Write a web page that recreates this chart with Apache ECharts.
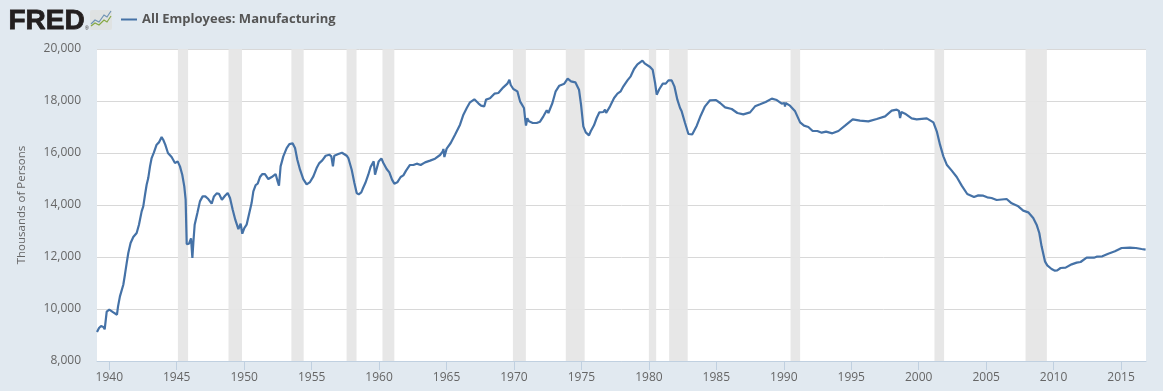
<!DOCTYPE html>
<html>
<head>
<meta charset="utf-8">
<style>html,body{margin:0;padding:0;background:#e1e9f0}#c{width:1163px;height:391px}</style>
<script src="https://cdn.jsdelivr.net/npm/echarts@6/dist/echarts.min.js"></script>
</head>
<body>
<div id="c"></div>
<script>
const seriesName = "All Employees: Manufacturing";
const yAxisName = "Thousands of Persons";
const yearTicks = [1940,1945,1950,1955,1960,1965,1970,1975,1980,1985,1990,1995,2000,2005,2010,2015];
const recessionStarts = [1945.09,1948.84,1953.5,1957.59,1960.25,1969.92,1973.84,1980.0,1981.5,1990.5,2001.17,2007.92];
const recessionEnds   = [1945.84,1949.84,1954.41,1958.33,1961.13,1970.88,1975.24,1980.54,1982.88,1991.21,2001.88,2009.5];
const years = [
1939.09,1939.24,1939.39,1939.56,1939.66,1939.81,1940.0,1940.3,1940.57,1940.65,1940.79,1941.04,1941.16,1941.29,1941.41,1941.58,1941.78,1942.03,1942.2,1942.4,1942.52,1942.65,1942.77,1942.89,
1943.02,1943.14,1943.31,1943.51,1943.68,1943.88,1944.0,1944.15,1944.35,1944.62,1944.87,1945.07,1945.24,1945.41,1945.56,1945.66,1945.74,1945.91,1946.06,1946.12,1946.16,1946.23,1946.33,1946.53,1946.72,1946.92,
1947.12,1947.34,1947.59,1947.76,1947.96,1948.13,1948.35,1948.58,1948.78,1948.95,1949.15,1949.34,1949.57,1949.74,1949.86,1950.01,1950.18,1950.38,1950.55,1950.68,1950.85,1951.0,1951.17,1951.35,1951.54,1951.79,
1952.04,1952.33,1952.48,1952.58,1952.7,1952.9,1953.15,1953.35,1953.59,1953.77,1953.94,1954.14,1954.38,1954.63,1954.88,1955.13,1955.37,1955.57,1955.79,1956.04,1956.31,1956.46,1956.58,1956.68,1956.98,
1957.25,1957.6,1957.72,1957.97,1958.17,1958.34,1958.49,1958.68,1958.78,1958.88,1958.98,1959.2,1959.37,1959.6,1959.7,1959.82,1959.97,1960.17,1960.32,1960.56,1960.76,1960.96,
1961.13,1961.35,1961.6,1961.8,1962.0,1962.29,1962.54,1962.79,1963.08,1963.41,1963.78,1964.15,1964.52,1964.72,1964.77,1964.84,1965.01,1965.31,1965.63,1966.0,1966.25,1966.5,1966.74,1967.06,1967.36,1967.56,1967.68,1967.8,1967.93,
1968.22,1968.55,1968.84,1969.21,1969.51,1969.66,1969.76,1969.95,1970.25,1970.45,1970.74,1970.82,1970.89,1970.99,1971.11,1971.21,1971.39,1971.68,1971.93,1972.18,1972.43,1972.55,1972.85,
1973.09,1973.36,1973.73,1973.98,1974.23,1974.55,1974.82,1974.97,1975.14,1975.32,1975.56,1975.69,1975.93,1976.13,1976.33,1976.63,1976.75,1976.83,1977.12,1977.42,1977.67,1977.91,
1978.11,1978.41,1978.65,1978.9,1979.15,1979.52,1979.71,1980.09,1980.28,1980.46,1980.58,1980.78,1981.03,1981.25,1981.45,1981.69,1981.89,1982.11,1982.31,1982.43,1982.68,1982.93,
1983.22,1983.55,1983.84,1984.16,1984.53,1984.98,1985.28,1985.65,1986.14,1986.56,1987.0,1987.5,1987.87,1988.24,1988.66,1989.11,1989.48,1989.85,1990.05,1990.09,1990.13,1990.46,1990.84,
1991.21,1991.5,1991.82,1992.14,1992.49,1992.81,1993.13,1993.6,1994.05,1994.54,1995.11,1995.65,1996.27,1996.89,1997.51,1998.0,1998.37,1998.54,1998.62,1998.72,1998.99,1999.48,1999.85,
2000.6,2000.72,2001.09,2001.34,2001.58,2001.83,2002.08,2002.45,2002.82,2003.19,2003.6,2004.1,2004.42,2004.79,2005.08,2005.4,2005.78,2006.52,2006.89,2007.38,2007.75,2008.12,2008.49,2008.74,2008.94,
2009.11,2009.36,2009.53,2009.85,2010.1,2010.27,2010.52,2010.89,2011.34,2011.71,2012.0,2012.45,2012.99,2013.19,2013.61,2014.05,2014.55,2015.04,2015.66,2016.1,2016.52,2016.82
];
const employees = [
9115,9270,9346,9308,9220,9900,9975,9870,9780,10100,10485,10934,11319,11767,12152,12537,12767,12921,13242,13755,13947,14395,14780,15036,
15485,15806,16024,16319,16408,16613,16511,16319,16000,15844,15613,15677,15485,15165,14716,14203,12498,12511,12716,12716,11960,12537,13242,13690,14139,14331,
14331,14229,14049,14331,14447,14434,14203,14357,14460,14267,13819,13434,13075,13280,12896,13114,13242,13690,14075,14524,14767,14819,15075,15190,15190,14998,
15075,15190,14908,14742,15485,15870,16190,16344,16370,16190,15742,15357,14998,14793,14883,15101,15421,15613,15716,15895,15934,15870,15485,15895,15959,
16011,15895,15806,15357,14844,14460,14408,14485,14613,14562,14844,15165,15460,15677,15165,15165,15677,15793,15616,15385,15257,14975,
14821,14872,15077,15141,15321,15539,15539,15590,15539,15641,15706,15782,15923,16065,16154,15846,16167,16385,16705,17090,17475,17731,17949,18064,17911,17821,17885,17795,18052,
18103,18282,18308,18526,18667,18821,18616,18462,18372,17987,17731,17346,17052,17334,17218,17282,17154,17154,17205,17411,17641,17539,17923,
18372,18590,18667,18859,18757,18718,18436,17859,17026,16795,16680,16834,17064,17346,17564,17577,17667,17539,17795,18116,18282,18372,
18564,18795,18949,19231,19410,19552,19436,19308,19205,18693,18244,18462,18667,18667,18795,18795,18564,18052,17731,17603,17154,16731,
16718,17051,17436,17795,18026,18038,17923,17756,17692,17538,17487,17564,17795,17872,17961,18090,18038,17897,17923,17790,17923,17820,17602,
17179,17051,17000,16846,16846,16782,16820,16756,16846,17051,17295,17244,17218,17308,17410,17628,17667,17615,17346,17577,17513,17333,17295,
17333,17282,17179,16833,16320,15872,15551,15321,15077,14744,14423,14307,14371,14359,14295,14269,14192,14230,14064,13948,13782,13718,13500,13243,12923,
12410,11833,11679,11538,11474,11487,11577,11590,11718,11782,11808,11974,11974,12013,12026,12128,12218,12346,12359,12346,12307,12282
];

const chart = echarts.init(document.getElementById('c'), null, {renderer:'canvas'});
const linePoints = years.map((y,i)=>[y,employees[i]]);
const bands = recessionStarts.map((s,i)=>[{xAxis:s},{xAxis:recessionEnds[i]}]);
chart.setOption({
  animation:false,
  backgroundColor:'#e1e9f0',
  textStyle:{fontFamily:'"Open Sans"'},
  grid:{left:97,right:17,top:49,bottom:30,show:true,backgroundColor:'#ffffff',borderWidth:0,containLabel:false},
  legend:{left:116,top:8,itemWidth:16,itemHeight:2,itemGap:5,icon:'rect',
    data:[seriesName],
    textStyle:{color:'#555555',fontSize:13,fontWeight:'bold',fontFamily:'"Open Sans"'}},
  xAxis:{type:'value',min:1939.09,max:2016.85,
    splitLine:{show:false},
    axisLine:{show:true,onZero:false,lineStyle:{color:'#c0d0e0',width:1}},
    axisTick:{show:true,length:9,lineStyle:{color:'#c0d0e0'},customValues:yearTicks},
    axisLabel:{color:'#666666',fontSize:12,margin:11,customValues:yearTicks,formatter:v=>String(v)}},
  yAxis:{type:'value',min:8000,max:20000,interval:2000,
    name:yAxisName,nameLocation:'middle',nameGap:69,nameRotate:90,
    nameTextStyle:{color:'#666666',fontSize:11.5},
    axisLine:{show:false},axisTick:{show:false},
    splitLine:{show:true,lineStyle:{color:'#d8d8d8',width:1}},
    axisLabel:{color:'#666666',fontSize:12,margin:16,padding:[6,0,0,0],
      formatter:v=>v.toLocaleString('en-US')}},
  series:[{
    name:seriesName,type:'line',data:linePoints,showSymbol:false,smooth:false,
    lineStyle:{color:'#4572a7',width:2.2},itemStyle:{color:'#4572a7'},
    markArea:{silent:true,itemStyle:{color:'#e6e6e6',opacity:0.95},data:bands}
  }],
  graphic:[
    {type:'text',left:8,top:7,style:{text:'FRED',fontFamily:'"Liberation Sans"',fontWeight:'bold',fontSize:28,fill:'#231f20',stroke:'#231f20',lineWidth:0.8}},
    {type:'text',left:85,top:26,style:{text:'®',fontFamily:'"Liberation Sans"',fontSize:5,fill:'#231f20'}},
    {type:'rect',shape:{x:90,y:10,width:22,height:20,r:2},style:{fill:'#dfe2e2'}},
    {type:'polyline',shape:{points:[[91,24],[95,20],[99,22],[104,15],[107,17],[111,11]]},style:{stroke:'#6f93b3',fill:null,lineWidth:1.2}},
    {type:'polyline',shape:{points:[[91,26],[95,23],[99,25],[104,20],[107,22],[111,16]]},style:{stroke:'#86a843',fill:null,lineWidth:1.2}}
  ]
});
</script>
</body>
</html>
